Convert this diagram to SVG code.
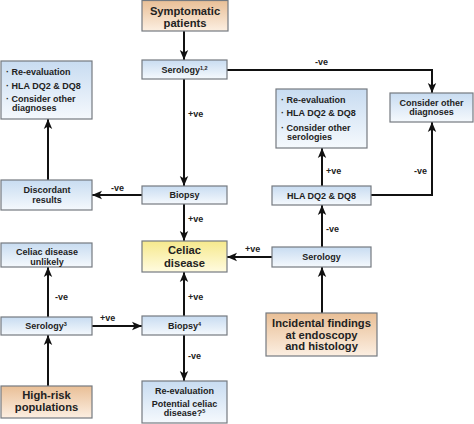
<svg xmlns="http://www.w3.org/2000/svg" width="474" height="424" viewBox="0 0 474 424">
<defs>
<linearGradient id="gBlue" x1="0" y1="0" x2="0" y2="1"><stop offset="0" stop-color="#c8dcf1"/><stop offset="1" stop-color="#f5f9fd"/></linearGradient>
<linearGradient id="gOrange" x1="0" y1="0" x2="0" y2="1"><stop offset="0" stop-color="#e9bf96"/><stop offset="1" stop-color="#fcefe2"/></linearGradient>
<linearGradient id="gYellow" x1="0" y1="0" x2="0" y2="1"><stop offset="0" stop-color="#f6e98c"/><stop offset="1" stop-color="#fffbe0"/></linearGradient>
<marker id="arr" markerUnits="userSpaceOnUse" markerWidth="10" markerHeight="10" viewBox="0 0 10 10" refX="10" refY="5" orient="auto"><path d="M0,0.8 L10,5 L0,9.2 L2.5,5 Z" fill="#111"/></marker>
</defs>
<style>
text{font-family:"Liberation Sans",Arial,sans-serif;font-weight:bold;fill:#222;}
.s{font-size:9px;}
.b{font-size:11.2px;}
.c{text-anchor:middle;}
.lbl{font-size:9px;}
.box{stroke:#757a80;stroke-width:1.2;}
.blue{fill:url(#gBlue);}
.orange{fill:url(#gOrange);}
.yellow{fill:url(#gYellow);}
.sup{font-size:5.5px;}
#connectors path{fill:none;stroke:#111;stroke-width:2;}
</style>
<rect width="474" height="424" fill="#ffffff"/>
<g id="connectors">
<path d="M184,31 V60" marker-end="url(#arr)"/>
<path d="M184,79 V186" marker-end="url(#arr)"/>
<path d="M227,70 H432 V93" marker-end="url(#arr)"/>
<path d="M142,195 H92" marker-end="url(#arr)"/>
<path d="M48,180 V119" marker-end="url(#arr)"/>
<path d="M184,204 V241" marker-end="url(#arr)"/>
<path d="M272,257 H227" marker-end="url(#arr)"/>
<path d="M322,247 V205" marker-end="url(#arr)"/>
<path d="M322,186 V148" marker-end="url(#arr)"/>
<path d="M371,195 H432 V122" marker-end="url(#arr)"/>
<path d="M322,313 V267" marker-end="url(#arr)"/>
<path d="M48,386 V335" marker-end="url(#arr)"/>
<path d="M48,317 V267" marker-end="url(#arr)"/>
<path d="M92,326 H142" marker-end="url(#arr)"/>
<path d="M184,316 V272" marker-end="url(#arr)"/>
<path d="M184,335 V381" marker-end="url(#arr)"/>
<text class="lbl" x="188" y="117">+ve</text>
<text class="lbl" x="315" y="65">-ve</text>
<text class="lbl" x="111" y="191">-ve</text>
<text class="lbl" x="188" y="222">+ve</text>
<text class="lbl" x="245" y="252">+ve</text>
<text class="lbl" x="326" y="232">-ve</text>
<text class="lbl" x="326" y="174">+ve</text>
<text class="lbl" x="414" y="174">-ve</text>
<text class="lbl" x="55" y="300">-ve</text>
<text class="lbl" x="100" y="321">+ve</text>
<text class="lbl" x="188" y="300">+ve</text>
<text class="lbl" x="188" y="359">-ve</text>
</g>
<g id="symptomatic">
<rect class="box orange" x="142" y="0.5" width="86" height="30.5"/>
<text class="b c" x="185" y="15">Symptomatic</text>
<text class="b c" x="185" y="27">patients</text>
</g>
<g id="serology12">
<rect class="box blue" x="142" y="60" width="85" height="19"/>
<text class="s c" x="184.5" y="73">Serology<tspan class="sup" dy="-3.5">1,2</tspan></text>
</g>
<g id="reeval-left">
<rect class="box blue" x="1" y="61" width="91" height="58"/>
<text class="s" x="6" y="75">· Re-evaluation</text>
<text class="s" x="6" y="89">· HLA DQ2 &amp; DQ8</text>
<text class="s" x="6" y="102">· Consider other</text>
<text class="s" x="12" y="111">diagnoses</text>
</g>
<g id="consider-diagnoses">
<rect class="box blue" x="390" y="93" width="83" height="29"/>
<text class="s c" x="431.5" y="106">Consider other</text>
<text class="s c" x="431.5" y="115">diagnoses</text>
</g>
<g id="reeval-mid">
<rect class="box blue" x="276" y="89" width="91" height="59"/>
<text class="s" x="281" y="103">· Re-evaluation</text>
<text class="s" x="281" y="116">· HLA DQ2 &amp; DQ8</text>
<text class="s" x="281" y="131">· Consider other</text>
<text class="s" x="287" y="140">serologies</text>
</g>
<g id="discordant">
<rect class="box blue" x="1" y="180" width="91" height="30"/>
<text class="s c" x="47" y="193">Discordant</text>
<text class="s c" x="47" y="203">results</text>
</g>
<g id="biopsy">
<rect class="box blue" x="142" y="186" width="85" height="18"/>
<text class="s c" x="184.5" y="198">Biopsy</text>
</g>
<g id="hla">
<rect class="box blue" x="272" y="186" width="99" height="19"/>
<text class="s c" x="321.5" y="198.5">HLA DQ2 &amp; DQ8</text>
</g>
<g id="celiac">
<rect class="box yellow" x="142" y="241" width="85" height="31"/>
<text class="b c" x="184.5" y="254">Celiac</text>
<text class="b c" x="184.5" y="267">disease</text>
</g>
<g id="celiac-unlikely">
<rect class="box blue" x="1" y="243" width="91" height="24"/>
<text class="s c" x="47" y="255">Celiac disease</text>
<text class="s c" x="47" y="265">unlikely</text>
</g>
<g id="serology-right">
<rect class="box blue" x="272" y="247" width="99" height="20"/>
<text class="s c" x="321.5" y="260">Serology</text>
</g>
<g id="serology3">
<rect class="box blue" x="1" y="317" width="91" height="18"/>
<text class="s c" x="46" y="329">Serology<tspan class="sup" dy="-3.5">3</tspan></text>
</g>
<g id="biopsy4">
<rect class="box blue" x="142" y="316" width="85" height="19"/>
<text class="s c" x="184.5" y="329">Biopsy<tspan class="sup" dy="-3.5">4</tspan></text>
</g>
<g id="incidental">
<rect class="box orange" x="266" y="313" width="111" height="43"/>
<text class="b c" x="321.5" y="327">Incidental findings</text>
<text class="b c" x="321.5" y="338.5">at endoscopy</text>
<text class="b c" x="321.5" y="350">and histology</text>
</g>
<g id="reeval-bottom">
<rect class="box blue" x="142" y="381" width="85" height="42"/>
<text class="s c" x="184.5" y="394">Re-evaluation</text>
<text class="s c" x="184.5" y="407">Potential celiac</text>
<text class="s c" x="184.5" y="416">disease?<tspan class="sup" dy="-3.5">5</tspan></text>
</g>
<g id="high-risk">
<rect class="box orange" x="1" y="386" width="91" height="32"/>
<text class="b c" x="46.5" y="399">High-risk</text>
<text class="b c" x="46.5" y="411">populations</text>
</g>
</svg>
